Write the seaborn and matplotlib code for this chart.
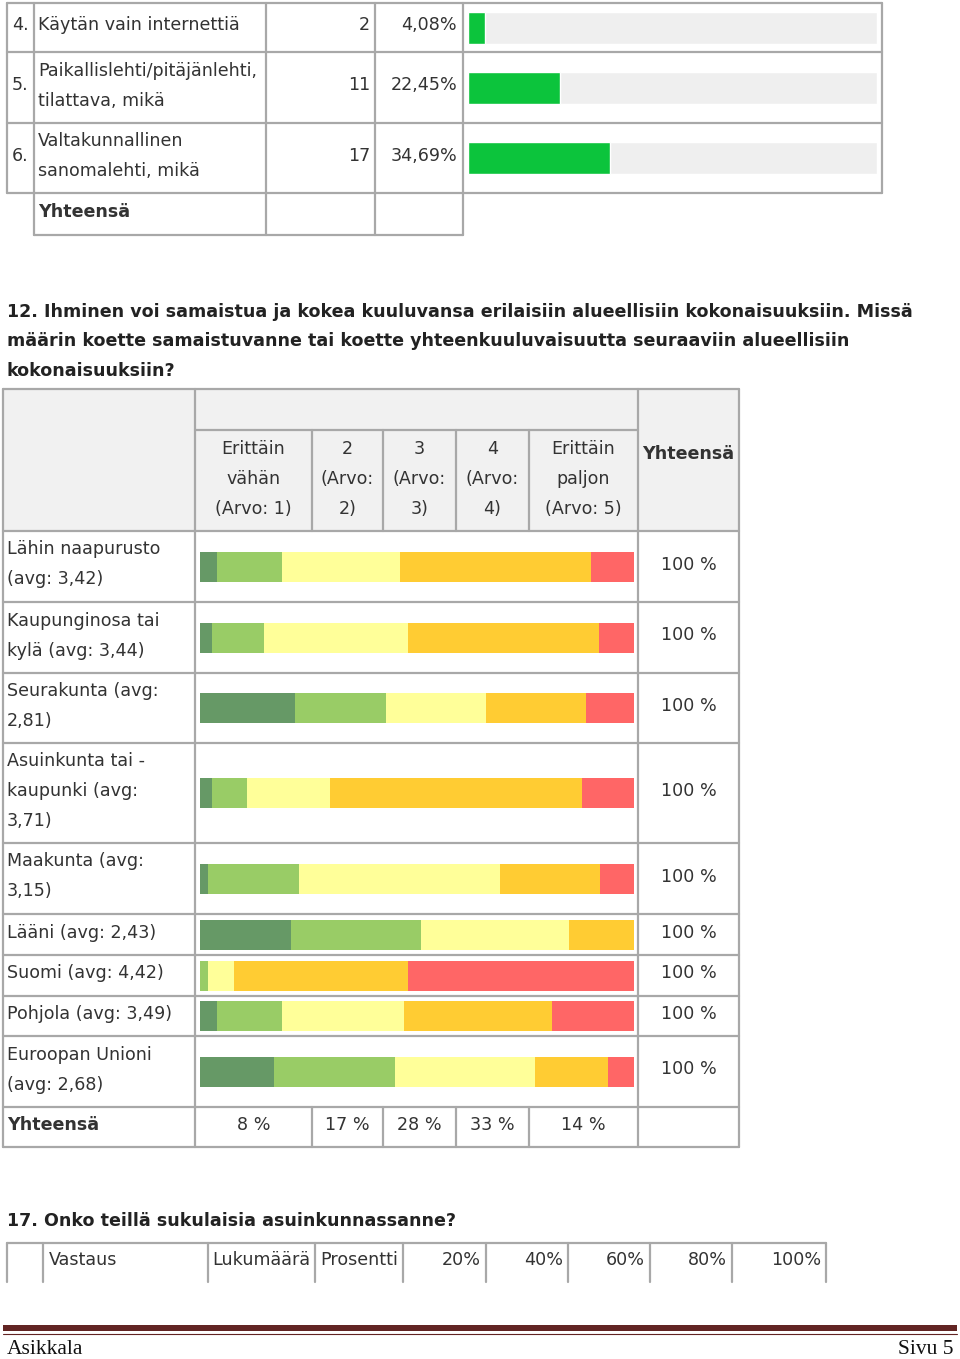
import numpy as np
import matplotlib
matplotlib.use("Agg")
import matplotlib.pyplot as plt
import seaborn as sns

# Data: question 11 tail (newspapers)
q11_nums = ["4.", "5.", "6."]
q11_options = ["Käytän vain internettiä",
               "Paikallislehti/pitäjänlehti,\ntilattava, mikä",
               "Valtakunnallinen\nsanomalehti, mikä"]
q11_counts = [2, 11, 17]
q11_percents = [4.08, 22.45, 34.69]

# Data: question 12 (Likert distribution, % per row)
q12_title = ["12. Ihminen voi samaistua ja kokea kuuluvansa erilaisiin alueellisiin kokonaisuuksiin. Missä",
             "määrin koette samaistuvanne tai koette yhteenkuuluvaisuutta seuraaviin alueellisiin",
             "kokonaisuuksiin?"]
q12_levels = ["Erittäin\nvähän\n(Arvo: 1)", "2\n(Arvo:\n2)", "3\n(Arvo:\n3)",
              "4\n(Arvo:\n4)", "Erittäin\npaljon\n(Arvo: 5)"]
q12_rows = ["Lähin naapurusto\n(avg: 3,42)",
            "Kaupunginosa tai\nkylä (avg: 3,44)",
            "Seurakunta (avg:\n2,81)",
            "Asuinkunta tai -\nkaupunki (avg:\n3,71)",
            "Maakunta (avg:\n3,15)",
            "Lääni (avg: 2,43)",
            "Suomi (avg: 4,42)",
            "Pohjola (avg: 3,49)",
            "Euroopan Unioni\n(avg: 2,68)"]
lvl1 = [4.0, 2.8, 21.9, 2.8, 1.8, 21.0, 0.0, 3.9, 17.0]
lvl2 = [15.0, 12.0, 21.0, 8.1, 21.1, 30.0, 1.8, 15.0, 27.9]
lvl3 = [27.1, 33.1, 23.0, 19.0, 46.2, 34.0, 6.1, 28.1, 32.2]
lvl4 = [44.0, 44.1, 23.1, 58.1, 23.0, 15.0, 40.1, 34.0, 17.0]
lvl5 = [9.9, 8.0, 11.0, 12.0, 7.9, 0.0, 52.0, 19.0, 5.9]
q12_totals = [8, 17, 28, 33, 14]

# Data: question 17 header
q17_title = "17. Onko teillä sukulaisia asuinkunnassanne?"
q17_ticks = [20, 40, 60, 80, 100]

sns.set_theme(style="white")
plt.rcParams["font.family"] = ["DejaVu Sans"]
likert_colors = ["#669966", "#99cc66", "#ffff99", "#ffcc33", "#ff6666"]

W, H = 960, 1359
fig = plt.figure(figsize=(W / 100, H / 100), dpi=100)
ax = fig.add_axes([0, 0, 1, 1])
ax.set_xlim(0, W)
ax.set_ylim(H, 0)
ax.axis("off")

fs = 12.6
txt = "#333333"
grid = "#a8a8a8"
lw = 1.6


def lines_at(x, yc, s, ha="left", step=30, weight="normal", color=txt):
    parts = s.split("\n")
    y0 = yc - (len(parts) - 1) * step / 2
    for i, p in enumerate(parts):
        ax.text(x, y0 + i * step, p, ha=ha, va="center_baseline",
                fontsize=fs, color=color, fontweight=weight)


def box_axes(x0, x1, y0, y1):
    a = fig.add_axes([x0 / W, 1 - y1 / H, (x1 - x0) / W, (y1 - y0) / H])
    a.set_xlim(0, 100)
    a.set_ylim(y1, y0)
    a.axis("off")
    return a


# table for question 11
t1_x = [7, 34, 266, 375, 463, 882]
t1_y = [3, 52, 123, 193]
t1_end = 235
for y in t1_y:
    ax.plot([t1_x[0], t1_x[-1]], [y, y], color=grid, lw=lw)
ax.plot([t1_x[1], t1_x[4]], [t1_end, t1_end], color=grid, lw=lw)
for x in [t1_x[0], t1_x[-1]]:
    ax.plot([x, x], [t1_y[0], t1_y[-1]], color=grid, lw=lw)
for x in t1_x[1:5]:
    ax.plot([x, x], [t1_y[0], t1_end], color=grid, lw=lw)

centers1 = [(t1_y[i] + t1_y[i + 1]) / 2 for i in range(3)]
for i in range(3):
    yc = centers1[i] - 4
    lines_at(12, yc, q11_nums[i])
    lines_at(38, yc, q11_options[i])
    lines_at(370, yc, str(q11_counts[i]), ha="right")
    lines_at(457, yc, f"{q11_percents[i]:.2f}".replace(".", ",") + "%", ha="right")
lines_at(38, (t1_y[3] + t1_end) / 2 - 4, "Yhteensä", weight="bold")

bx1 = box_axes(468, 877, t1_y[0], t1_y[-1])
bx1.barh(centers1, [100] * 3, height=32, color="#efefef")
bx1.barh(centers1, q11_percents, height=32, color="#0cc43c")

# question 12 title
for i, s in enumerate(q12_title):
    ax.text(7, 310 + i * 29.5, s, ha="left", va="center_baseline",
            fontsize=fs, fontweight="bold", color="#222222")

# table for question 12
t2_x = [3, 195, 312, 383, 456, 529, 638, 739]
h_top, h_mid, h_bot = 389, 430, 531
t2_y = [531, 602, 673, 743, 843, 914, 955, 996, 1036, 1107]
t2_end = 1147

ax.add_patch(plt.Rectangle((t2_x[0], h_top), t2_x[-1] - t2_x[0], h_bot - h_top,
                           facecolor="#f1f1f1", edgecolor="none"))
ax.plot([t2_x[0], t2_x[-1]], [h_top, h_top], color=grid, lw=lw)
ax.plot([t2_x[1], t2_x[6]], [h_mid, h_mid], color=grid, lw=lw)
for y in t2_y + [t2_end]:
    ax.plot([t2_x[0], t2_x[-1]], [y, y], color=grid, lw=lw)
for x in [t2_x[0], t2_x[1], t2_x[6], t2_x[7]]:
    ax.plot([x, x], [h_top, t2_end], color=grid, lw=lw)
for x in t2_x[2:6]:
    ax.plot([x, x], [h_mid, h_bot], color=grid, lw=lw)
    ax.plot([x, x], [t2_y[-1], t2_end], color=grid, lw=lw)

col_c = [(t2_x[i] + t2_x[i + 1]) / 2 for i in range(1, 6)]
for c, lab in zip(col_c, q12_levels):
    lines_at(c, (h_mid + h_bot) / 2 - 4, lab, ha="center")
lines_at((t2_x[6] + t2_x[7]) / 2, 452, "Yhteensä", ha="center", weight="bold")

centers2 = [(t2_y[i] + t2_y[i + 1]) / 2 for i in range(len(q12_rows))]
for yc, lab in zip(centers2, q12_rows):
    lines_at(7, yc - 4, lab)
    lines_at((t2_x[6] + t2_x[7]) / 2, yc - 4, "100 %", ha="center")

yt = (t2_y[-1] + t2_end) / 2 - 4
lines_at(7, yt, "Yhteensä", weight="bold")
for c, v in zip(col_c, q12_totals):
    lines_at(c, yt, f"{v} %", ha="center")

bx2 = box_axes(200, 634, t2_y[0], t2_y[-1])
left = np.zeros(len(q12_rows))
for vals, col in zip([lvl1, lvl2, lvl3, lvl4, lvl5], likert_colors):
    vals = np.array(vals)
    bx2.barh(centers2, vals, left=left, height=30, color=col, linewidth=0)
    left = left + vals
bx2.set_xlim(0, left.max())

# question 17
ax.text(7, 1219, q17_title, ha="left", va="center_baseline",
        fontsize=fs, fontweight="bold", color="#222222")
t3_x = [7, 43, 208, 315, 403, 486, 568, 650, 732, 826]
ax.plot([t3_x[0], t3_x[-1]], [1243, 1243], color=grid, lw=lw)
for x in t3_x:
    ax.plot([x, x], [1243, 1282], color=grid, lw=lw)
lines_at(49, 1258, "Vastaus")
lines_at(212, 1258, "Lukumäärä")
lines_at(320, 1258, "Prosentti")
for x, t in zip(t3_x[5:], q17_ticks):
    lines_at(x - 5, 1258, f"{t}%", ha="right")

# footer
ax.add_patch(plt.Rectangle((3, 1325), 954, 5.5, facecolor="#622423", edgecolor="none"))
ax.plot([3, 957], [1333.5, 1333.5], color="#622423", lw=0.8)
ax.text(7, 1347, "Asikkala", ha="left", va="center_baseline",
        fontsize=15.5, family="Liberation Serif", color="#111111")
ax.text(953, 1347, "Sivu 5", ha="right", va="center_baseline",
        fontsize=15.5, family="Liberation Serif", color="#111111")

fig.savefig("out.png", dpi=100, facecolor="white")
